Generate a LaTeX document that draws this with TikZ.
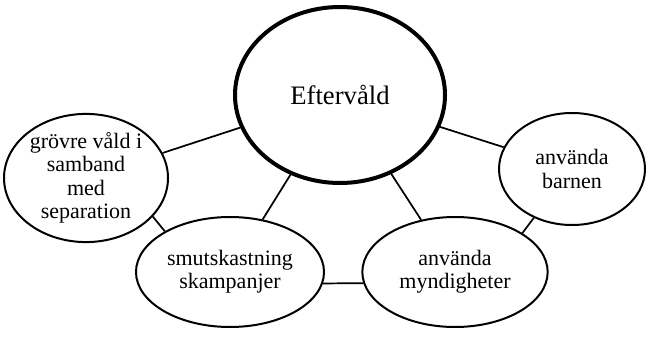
\documentclass[tikz,border=0pt]{standalone}
\usepackage{fontspec}
\setmainfont{Liberation Serif}
\usetikzlibrary{positioning,shapes.geometric}

\begin{document}
\begin{tikzpicture}[ auto, semithick, on grid]
	\tikzstyle{topic}=[ellipse,draw=black,line width=1.5pt,fill=white,inner sep=0pt,align=center,font=\fontsize{16.5}{17.5}\selectfont]
	\tikzstyle{link}=[draw=black,line width=1.3pt]
	\useasboundingbox (0,0) rectangle (486pt,254.25pt);
	\node[topic,line width=3pt,minimum width=157.5pt,minimum height=132pt,font=\fontsize{20}{24}\selectfont] (ef) at (255pt,183pt) {Efterv\r{a}ld};
	\node[topic,minimum width=123pt,minimum height=90pt]    (gr)[below left=62.25pt and 190.5pt of ef]   {gr\"ovre v\r{a}ld i\\samband\\med\\separation};
	\node[topic,minimum width=141pt,minimum height=82.5pt]  (sm)[below left=132.75pt and 82.5pt of ef]   {smutskastning\\skampanjer};
	\node[topic,minimum width=139pt,minimum height=82.5pt]  (my)[below right=132.75pt and 86.25pt of ef] {anv\"anda\\myndigheter};
	\node[topic,minimum width=109.5pt,minimum height=84pt]  (ba)[below right=55.5pt and 174pt of ef]    {anv\"anda\\barnen};
	\path
	(ef)	edge[link]		(gr)
	(ef)	edge[link]		(sm)
	(ef)	edge[link]		(my)
	(ef)	edge[link]		(ba)
	(gr.-30)	edge[link]	(sm.148)
	(sm.-7)		edge[link]	(my.187)
	(ba.232)	edge[link]	(my.30);
\end{tikzpicture}
\end{document}
